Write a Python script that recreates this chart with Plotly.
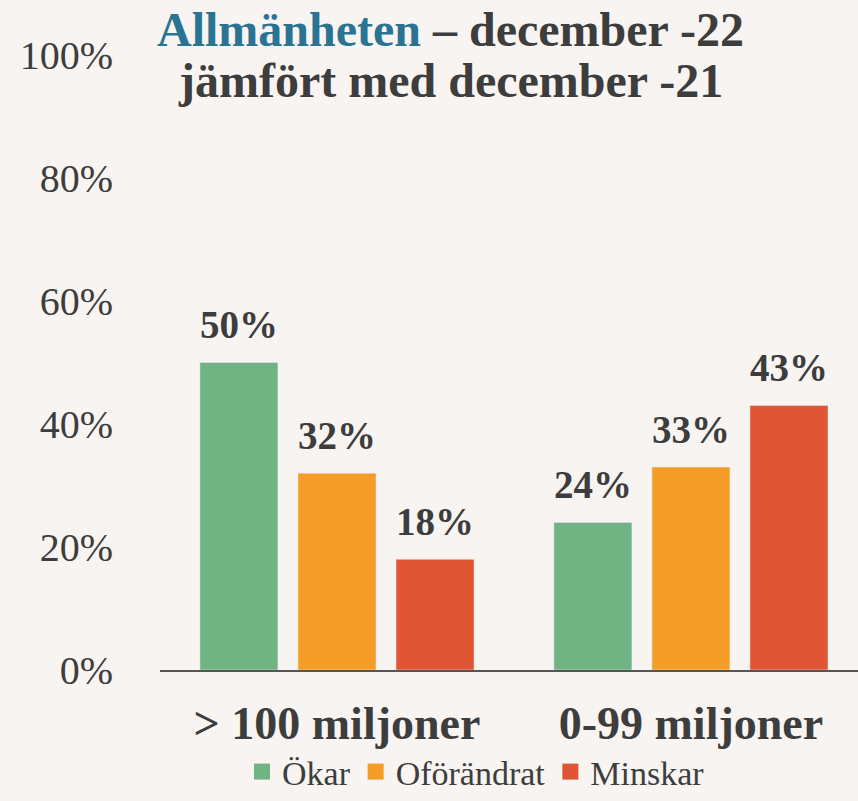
import plotly.graph_objects as go

categories = ["> 100 miljoner", "0-99 miljoner"]
series_names = ["Ökar", "Oförändrat", "Minskar"]
okar = [0.50, 0.24]
oforandrat = [0.32, 0.33]
minskar = [0.18, 0.43]
tick_vals = [0, 0.2, 0.4, 0.6, 0.8, 1.0]
tick_text = ["0%", "20%", "40%", "60%", "80%", "100%"]

colors = ["#72B384", "#F59D26", "#E05533"]
text_color = "#3d3d3d"
bg = "#F7F4F1"
font_family = "Liberation Serif"

fig = go.Figure()
for name, vals, col in zip(series_names, [okar, oforandrat, minskar], colors):
    fig.add_trace(go.Bar(
        x=categories, y=vals, name=name, marker_color=col,
        showlegend=False, offsetgroup=name,
    ))
# value labels (scatter grouped like the bars; invisible marker lifts the text)
for name, vals in zip(series_names, [okar, oforandrat, minskar]):
    fig.add_trace(go.Scatter(
        x=categories, y=vals, mode="markers+text", offsetgroup=name,
        marker=dict(size=22, opacity=0), showlegend=False, hoverinfo="skip",
        text=[f"<b>{round(v*100)}%</b>" for v in vals], textposition="top center",
        textfont=dict(family=font_family, size=39, color=text_color), cliponaxis=False,
    ))
# legend entries
for name, col in zip(series_names, colors):
    fig.add_trace(go.Scatter(
        x=[None], y=[None], mode="markers", name=name,
        marker=dict(symbol="square", size=20, color=col),
    ))

fig.add_annotation(
    text="<b><span style='color:#2A7393'>Allmänheten</span> – december -22</b>",
    xref="paper", yref="paper", x=(450 - 160) / 698, y=(670 - 30) / 615,
    xanchor="center", yanchor="middle", showarrow=False,
    font=dict(family=font_family, size=48, color=text_color))
fig.add_annotation(
    text="<b>jämfört med december -21</b>",
    xref="paper", yref="paper", x=(450 - 160) / 698, y=(670 - 80) / 615,
    xanchor="center", yanchor="middle", showarrow=False,
    font=dict(family=font_family, size=48, color=text_color))

fig.update_layout(
    width=858, height=801,
    margin=dict(l=160, r=0, t=55, b=131, autoexpand=False),
    paper_bgcolor=bg, plot_bgcolor=bg,
    barmode="group", bargap=0.169, bargroupgap=0.204,
    scattermode="group", scattergap=0.169,
    font=dict(family=font_family, color=text_color),
    showlegend=True,
    legend=dict(orientation="h", x=476 / 858, xanchor="center", xref="container",
                y=0, yanchor="bottom", yref="container",
                font=dict(family=font_family, size=34, color=text_color),
                itemsizing="trace", traceorder="normal", bgcolor="rgba(0,0,0,0)"),
    xaxis=dict(range=[-0.5, 1.472], showline=True, linecolor="#555555", linewidth=2,
               ticks="", tickfont=dict(family=font_family, size=46, color=text_color),
               tickprefix="<b>", ticksuffix="</b>", ticklabelstandoff=12,
               automargin=False, fixedrange=True),
    yaxis=dict(range=[0, 1], tickvals=tick_vals, ticktext=tick_text, showgrid=False,
               zeroline=False, ticks="", ticklabelstandoff=46, automargin=False,
               tickfont=dict(family=font_family, size=40, color=text_color)),
)
fig.write_html("out.html")
